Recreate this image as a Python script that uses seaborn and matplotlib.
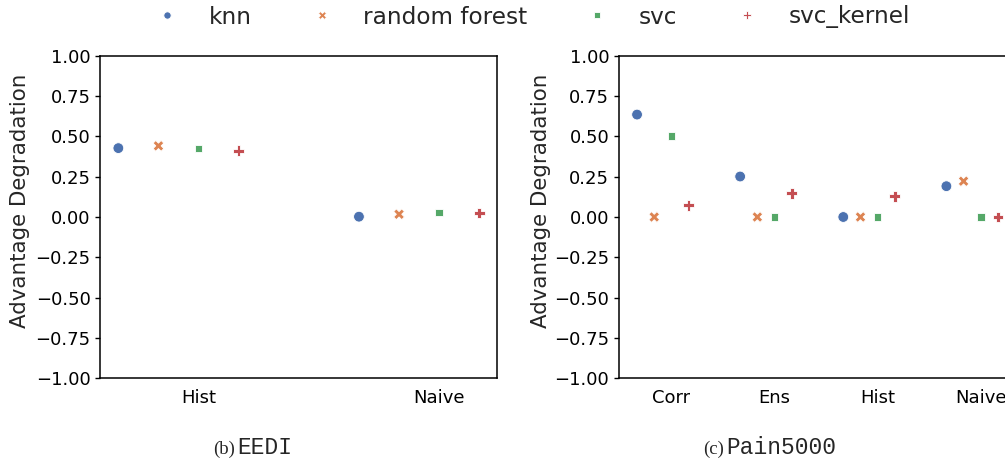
# Advantage degradation par méthode, deux jeux de données (EEDI et Pain5000)
import numpy as np
import pandas as pd
import matplotlib.pyplot as plt
import seaborn as sns

models = ["knn", "random forest", "svc", "svc_kernel"]

# EEDI
eedi_methods = ["Hist", "Naive"]
eedi_knn = [0.427, 0.002]
eedi_rf = [0.441, 0.017]
eedi_svc = [0.424, 0.029]
eedi_svck = [0.410, 0.025]

# Pain5000
pain_methods = ["Corr", "Ens", "Hist", "Naive"]
pain_knn = [0.635, 0.251, 0.0, 0.191]
pain_rf = [0.0, 0.0, 0.0, 0.222]
pain_svc = [0.502, 0.0, 0.0, 0.0]
pain_svck = [0.073, 0.147, 0.129, 0.0]


def to_long(methods, series):
    rows = []
    for m_idx, (model, values) in enumerate(zip(models, series)):
        for c_idx, (method, v) in enumerate(zip(methods, values)):
            # décalage par modèle autour de la catégorie
            rows.append({"model": model, "method": method,
                         "pos": c_idx + (m_idx - 2) / 6, "value": v})
    return pd.DataFrame(rows)


df_eedi = to_long(eedi_methods, [eedi_knn, eedi_rf, eedi_svc, eedi_svck])
df_pain = to_long(pain_methods, [pain_knn, pain_rf, pain_svc, pain_svck])

sns.set_theme(style="ticks", palette="deep")
plt.rcParams["font.family"] = ["DejaVu Sans"]

W, H = 1005, 459
fig = plt.figure(figsize=(W / 100, H / 100), dpi=100)
ax1 = fig.add_axes([100.3 / W, (H - 378.3) / H, 397 / W, 322.6 / H])
ax2 = fig.add_axes([619 / W, (H - 378.3) / H, 397 / W, 322.6 / H])

for ax, df, methods, lab_x in [(ax1, df_eedi, eedi_methods, -0.177),
                               (ax2, df_pain, pain_methods, -0.172)]:
    sns.scatterplot(data=df, x="pos", y="value", hue="model", style="model",
                    hue_order=models, style_order=models, s=60, ax=ax)
    ax.set_ylim(-1, 1)
    ax.set_yticks(np.arange(-1, 1.01, 0.25))
    ax.set_yticklabels([f"{t:.2f}".replace("-", "\u2212") for t in np.arange(-1, 1.01, 0.25)])
    ax.set_xticks(range(len(methods)))
    ax.set_xticklabels(methods)
    ax.set_xlabel("")
    ax.set_ylabel("Advantage Degradation", fontsize=15.4)
    ax.yaxis.set_label_coords(lab_x, 0.551)
    ax.tick_params(axis="x", length=0, pad=8, labelsize=13)
    ax.tick_params(axis="y", length=3.5, width=1, pad=3.5, labelsize=13)
    for sp in ax.spines.values():
        sp.set_linewidth(1.1)
        sp.set_color("black")
    ax.tick_params(colors="black")

handles, labels = ax1.get_legend_handles_labels()
ax1.get_legend().remove()
ax2.get_legend().remove()
fig.legend(handles, labels, loc="center", bbox_to_anchor=(527 / W, 1 - 17 / H),
           ncol=4, frameon=False, fontsize=16.7, markerscale=0.68,
           handlelength=2, handletextpad=0.8, columnspacing=2.0)

# légendes des sous-figures
for x_mid, tag, name in [(235, "(b)", "EEDI"), (724, "(c)", "Pain5000")]:
    fig.text(x_mid / W, 1 - 453.5 / H, tag, ha="right", va="baseline",
             fontsize=13.5, family="Liberation Serif")
    fig.text((x_mid + 2) / W, 1 - 453.5 / H, name, ha="left", va="baseline",
             fontsize=16.5, family="Liberation Mono")

fig.savefig("out.png", dpi=100)
